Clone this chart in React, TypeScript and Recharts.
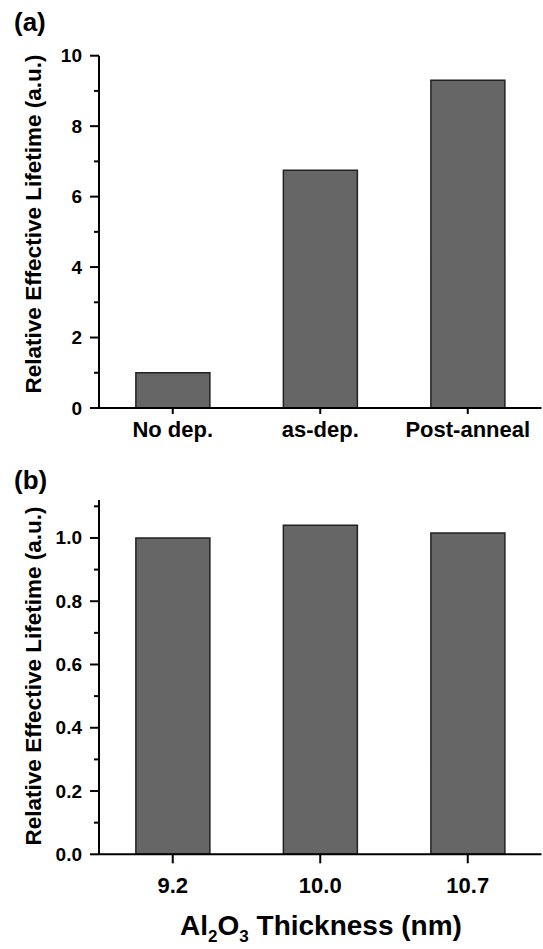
import React from "react";
import { BarChart, Bar, XAxis, YAxis } from "recharts";

// ---- data ----
const categoriesA = ["No dep.", "as-dep.", "Post-anneal"];
const valuesA = [1.0, 6.75, 9.3];
const yTicksA = [0, 1, 2, 3, 4, 5, 6, 7, 8, 9, 10];

const categoriesB = ["9.2", "10.0", "10.7"];
const valuesB = [1.0, 1.04, 1.016];
const yTicksB = [0, 0.1, 0.2, 0.3, 0.4, 0.5, 0.6, 0.7, 0.8, 0.9, 1.0, 1.1];

const yTitle = "Relative Effective Lifetime (a.u.)";

const dataA = categoriesA.map((c, i) => ({ name: c, value: valuesA[i] }));
const dataB = categoriesB.map((c, i) => ({ name: c, value: valuesB[i] }));

const FONT = "'Liberation Sans', Arial, Helvetica, sans-serif";

const makeYTick = (isMajor: (v: number) => boolean, fmt: (v: number) => string) => (props: any) => {
  const { x, y, payload } = props;
  const v = payload.value as number;
  const major = isMajor(v);
  return (
    <g>
      <line x1={x - (major ? 9 : 5)} x2={x} y1={y} y2={y} stroke="#000" strokeWidth={2} />
      {major && (
        <text
          x={x - 17}
          y={y}
          textAnchor="end"
          dominantBaseline="central"
          fontFamily={FONT}
          fontWeight="bold"
          fontSize={19}
          fill="#000"
        >
          {fmt(v)}
        </text>
      )}
    </g>
  );
};

const makeXTick = (tickLen: number, baseOffset: number) => (props: any) => {
  const { x, y, payload } = props;
  return (
    <g>
      <line x1={x} x2={x} y1={y} y2={y + tickLen} stroke="#000" strokeWidth={2} />
      <text
        x={x}
        y={y + baseOffset}
        textAnchor="middle"
        fontFamily={FONT}
        fontWeight="bold"
        fontSize={22}
        fill="#000"
      >
        {payload.value}
      </text>
    </g>
  );
};

const YTickA = makeYTick((v) => Math.round(v) % 2 === 0, (v) => String(v));
const YTickB = makeYTick((v) => Math.round(v * 10) % 2 === 0, (v) => v.toFixed(1));
const XTickA = makeXTick(6, 29);
const XTickB = makeXTick(9, 39);

export default function App() {
  return (
    <div style={{ position: "absolute", left: 0, top: 0, width: 543, height: 949, background: "#fff" }}>
      <div style={{ position: "absolute", left: 0, top: 0 }}>
        <BarChart
          width={543}
          height={460}
          data={dataA}
          margin={{ top: 55.7, right: 1.5, left: 39, bottom: 12 }}
          barCategoryGap="25%"
        >
          <XAxis
            dataKey="name"
            interval={0}
            tickSize={0}
            tickMargin={0}
            height={40}
            axisLine={{ stroke: "#000", strokeWidth: 2 }}
            tickLine={false}
            tick={XTickA}
          />
          <YAxis
            width={60}
            domain={[0, 10]}
            ticks={yTicksA}
            interval={0}
            tickSize={0}
            tickMargin={0}
            allowDataOverflow
            axisLine={{ stroke: "#000", strokeWidth: 2 }}
            tickLine={false}
            tick={YTickA}
          />
          <Bar dataKey="value" fill="#666666" stroke="#222" strokeWidth={1.5} isAnimationActive={false} />
        </BarChart>
      </div>
      <div style={{ position: "absolute", left: 0, top: 460 }}>
        <BarChart
          width={543}
          height={489}
          data={dataB}
          margin={{ top: 40, right: 1.5, left: 39, bottom: 44.7 }}
          barCategoryGap="25%"
        >
          <XAxis
            dataKey="name"
            interval={0}
            tickSize={0}
            tickMargin={0}
            height={50}
            axisLine={{ stroke: "#000", strokeWidth: 2 }}
            tickLine={false}
            tick={XTickB}
          />
          <YAxis
            width={60}
            domain={[0, 1.12]}
            ticks={yTicksB}
            interval={0}
            tickSize={0}
            tickMargin={0}
            allowDataOverflow
            axisLine={{ stroke: "#000", strokeWidth: 2 }}
            tickLine={false}
            tick={YTickB}
          />
          <Bar dataKey="value" fill="#666666" stroke="#222" strokeWidth={1.5} isAnimationActive={false} />
        </BarChart>
      </div>
      <svg
        width={543}
        height={949}
        style={{ position: "absolute", left: 0, top: 0, pointerEvents: "none" }}
      >
        <text x={14} y={31} fontFamily={FONT} fontWeight="bold" fontSize={26} fill="#000">
          (a)
        </text>
        <text x={14} y={489} fontFamily={FONT} fontWeight="bold" fontSize={26} fill="#000">
          (b)
        </text>
        <text
          x={33}
          y={224}
          transform="rotate(-90 33 224)"
          textAnchor="middle"
          dominantBaseline="central"
          fontFamily={FONT}
          fontWeight="bold"
          fontSize={22.5}
          fill="#000"
        >
          {yTitle}
        </text>
        <text
          x={33}
          y={676}
          transform="rotate(-90 33 676)"
          textAnchor="middle"
          dominantBaseline="central"
          fontFamily={FONT}
          fontWeight="bold"
          fontSize={22.5}
          fill="#000"
        >
          {yTitle}
        </text>
        <text x={321} y={935} textAnchor="middle" fontFamily={FONT} fontWeight="bold" fontSize={28} fill="#000">
          Al<tspan fontSize={17} dy={7}>2</tspan>
          <tspan dy={-7}>O</tspan>
          <tspan fontSize={17} dy={7}>3</tspan>
          <tspan dy={-7}> Thickness (nm)</tspan>
        </text>
      </svg>
    </div>
  );
}
